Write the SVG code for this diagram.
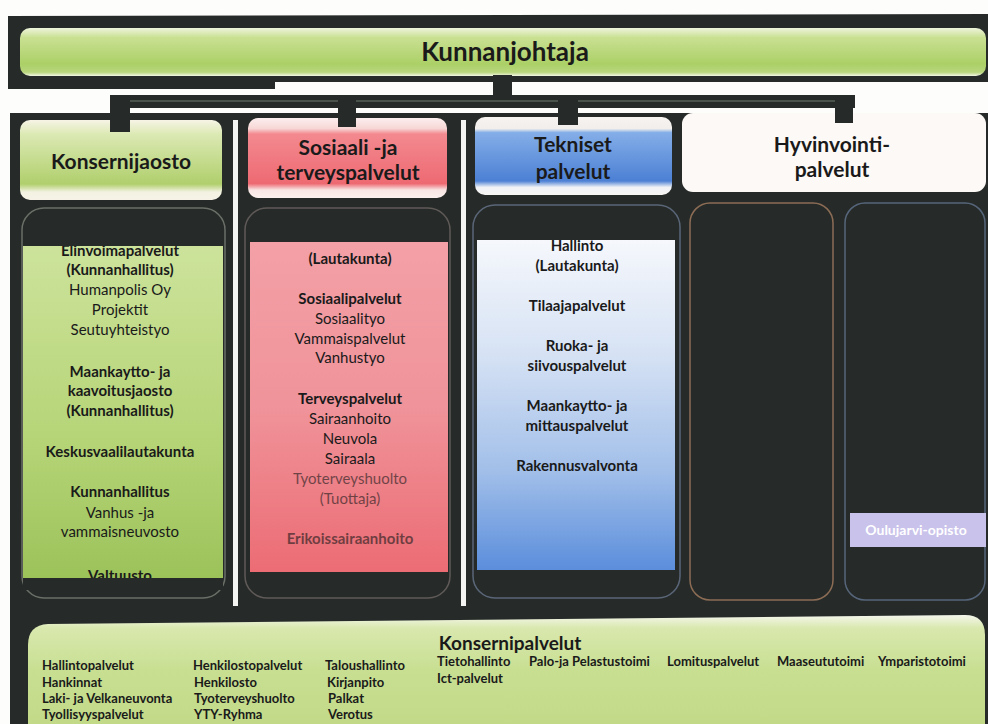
<svg xmlns="http://www.w3.org/2000/svg" width="988" height="724" viewBox="0 0 988 724">
<defs>
<linearGradient id="gTop" x1="0" y1="0" x2="0" y2="1">
<stop offset="0" stop-color="#eef5dc"/><stop offset="0.2" stop-color="#c9e092"/><stop offset="0.75" stop-color="#acd067"/><stop offset="0.92" stop-color="#b8d67c"/><stop offset="1" stop-color="#f2f6e4"/>
</linearGradient>
<linearGradient id="gGreenHead" x1="0" y1="0" x2="0" y2="1">
<stop offset="0" stop-color="#f7f4e6"/><stop offset="0.18" stop-color="#dbe9b3"/><stop offset="0.8" stop-color="#b0cf6c"/><stop offset="0.9" stop-color="#f3f2e2"/><stop offset="1" stop-color="#f6f3e6"/>
</linearGradient>
<linearGradient id="gPinkHead" x1="0" y1="0" x2="0" y2="1">
<stop offset="0" stop-color="#fbeeee"/><stop offset="0.13" stop-color="#f7d8d6"/><stop offset="0.2" stop-color="#f3898f"/><stop offset="0.82" stop-color="#ee6a73"/><stop offset="0.9" stop-color="#f8e6e4"/><stop offset="1" stop-color="#fbf1ee"/>
</linearGradient>
<linearGradient id="gBlueHead" x1="0" y1="0" x2="0" y2="1">
<stop offset="0" stop-color="#f7f3f0"/><stop offset="0.15" stop-color="#f2eeec"/><stop offset="0.2" stop-color="#84aee8"/><stop offset="0.82" stop-color="#4c80d4"/><stop offset="0.9" stop-color="#f0f2f6"/><stop offset="1" stop-color="#f8f6f4"/>
</linearGradient>
<linearGradient id="gGreenBody" x1="0" y1="0" x2="0" y2="1">
<stop offset="0" stop-color="#cde39c"/><stop offset="0.6" stop-color="#b5d476"/><stop offset="1" stop-color="#9cc25a"/>
</linearGradient>
<linearGradient id="gPinkBody" x1="0" y1="0" x2="0" y2="1">
<stop offset="0" stop-color="#f3a0a6"/><stop offset="0.5" stop-color="#f0939a"/><stop offset="1" stop-color="#ec6c74"/>
</linearGradient>
<linearGradient id="gBlueBody" x1="0" y1="0" x2="0" y2="1">
<stop offset="0" stop-color="#f6f8fc"/><stop offset="0.35" stop-color="#d6e2f4"/><stop offset="0.7" stop-color="#a2bfe9"/><stop offset="1" stop-color="#5b8edc"/>
</linearGradient>
<linearGradient id="gBottom" x1="0" y1="0" x2="0" y2="1">
<stop offset="0" stop-color="#f4f6ec"/><stop offset="0.12" stop-color="#d9e8ae"/><stop offset="0.5" stop-color="#c8df92"/><stop offset="1" stop-color="#c2da88"/>
</linearGradient>
<style>
.dark{fill:#262b29}
.t{font-family:Lato,"Open Sans","Liberation Sans",sans-serif;fill:#1a1a1a;text-anchor:middle}
.h{font-size:21px;font-weight:bold}
.b{font-size:15px;font-weight:bold}
.n{font-size:15px}
.s{font-size:13px;font-weight:bold;text-anchor:start}
.conn{fill:#262b29}
.sep{fill:#f4f4f2}
</style>
</defs>
<rect x="0" y="0" width="988" height="724" fill="#fdfdfb"/>

<!-- dark backgrounds -->
<path class="dark" d="M8 16 L988 14 L988 82 L275 82 L275 89 L8 89 Z"/>
<rect class="dark" x="10" y="113" width="978" height="611"/>

<!-- white separators -->
<rect class="sep" x="233" y="120" width="5" height="486"/>
<rect class="sep" x="461" y="120" width="5" height="486"/>

<g id="kunnanjohtaja">
<rect x="20" y="28" width="966" height="48" rx="10" fill="url(#gTop)"/>
<text class="t" x="505" y="61" font-size="26" font-weight="bold">Kunnanjohtaja</text>
</g>

<g id="konsernijaosto">
<rect x="20" y="120" width="202" height="80" rx="10" fill="url(#gGreenHead)"/>
<text class="t h" x="121" y="169">Konsernijaosto</text>
</g>

<g id="sosiaali">
<rect x="248" y="118" width="199" height="80" rx="10" fill="url(#gPinkHead)"/>
<text class="t h" x="348" y="155">Sosiaali -ja</text>
<text class="t h" x="348" y="180">terveyspalvelut</text>
</g>

<g id="tekniset">
<rect x="475" y="117" width="197" height="78" rx="10" fill="url(#gBlueHead)"/>
<text class="t h" x="573" y="152">Tekniset</text>
<text class="t h" x="573" y="179">palvelut</text>
</g>

<g id="hyvinvointi">
<rect x="682" y="113" width="304" height="79" rx="11" fill="#fdf9f6"/>
<text class="t h" x="832" y="152">Hyvinvointi-</text>
<text class="t h" x="832" y="177">palvelut</text>
</g>

<!-- connectors -->
<g id="connectors">
<rect class="conn" x="493" y="75" width="19" height="30"/>
<rect class="conn" x="110" y="95" width="745" height="13"/>
<line x1="125" y1="101" x2="850" y2="101" stroke="#6f7a70" stroke-width="1.2"/>
<rect class="conn" x="110" y="95" width="20" height="37"/>
<rect class="conn" x="338" y="95" width="18" height="32"/>
<rect class="conn" x="558" y="95" width="20" height="30"/>
<rect class="conn" x="835" y="95" width="18" height="28"/>
</g>

<g id="konserni-body">
<rect x="22" y="208" width="203" height="390" rx="22" fill="none" stroke="#6b6f68" stroke-width="1.5"/>
<rect x="23" y="241" width="200" height="337" fill="url(#gGreenBody)"/>
<text class="t b" x="120" y="256">Elinvoimapalvelut</text>
<rect class="dark" x="23" y="236" width="200" height="10"/>
<text class="t b" x="120" y="275">(Kunnanhallitus)</text>
<text class="t n" x="120" y="295">Humanpolis Oy</text>
<text class="t n" x="120" y="315">Projektit</text>
<text class="t n" x="120" y="335">Seutuyhteistyo</text>
<text class="t b" x="120" y="377">Maankaytto- ja</text>
<text class="t b" x="120" y="396">kaavoitusjaosto</text>
<text class="t b" x="120" y="416">(Kunnanhallitus)</text>
<text class="t b" x="120" y="457">Keskusvaalilautakunta</text>
<text class="t b" x="120" y="497">Kunnanhallitus</text>
<text class="t n" x="120" y="518">Vanhus -ja</text>
<text class="t n" x="120" y="537">vammaisneuvosto</text>
<text class="t b" x="120" y="581">Valtuusto</text>
<rect class="dark" x="23" y="578" width="200" height="12"/>
</g>

<g id="sosiaali-body">
<rect x="245" y="208" width="205" height="390" rx="22" fill="none" stroke="#5f5a58" stroke-width="1.5"/>
<rect x="250" y="242" width="198" height="330" fill="url(#gPinkBody)"/>
<text class="t b" x="350" y="264">(Lautakunta)</text>
<text class="t b" x="350" y="304">Sosiaalipalvelut</text>
<text class="t n" x="350" y="324">Sosiaalityo</text>
<text class="t n" x="350" y="344">Vammaispalvelut</text>
<text class="t n" x="350" y="363">Vanhustyo</text>
<text class="t b" x="350" y="404">Terveyspalvelut</text>
<text class="t n" x="350" y="424">Sairaanhoito</text>
<text class="t n" x="350" y="444">Neuvola</text>
<text class="t n" x="350" y="464">Sairaala</text>
<text class="t n" x="350" y="484" opacity="0.6">Tyoterveyshuolto</text>
<text class="t n" x="350" y="504" opacity="0.6">(Tuottaja)</text>
<text class="t b" x="350" y="544" opacity="0.6">Erikoissairaanhoito</text>
</g>

<g id="tekniset-body">
<rect x="473" y="205" width="207" height="393" rx="22" fill="none" stroke="#5a6678" stroke-width="1.5"/>
<rect x="477" y="238" width="198" height="332" fill="url(#gBlueBody)"/>
<text class="t b" x="577" y="251">Hallinto</text>
<rect class="dark" x="477" y="233" width="198" height="7"/>
<text class="t b" x="577" y="271">(Lautakunta)</text>
<text class="t b" x="577" y="311">Tilaajapalvelut</text>
<text class="t b" x="577" y="351">Ruoka- ja</text>
<text class="t b" x="577" y="371">siivouspalvelut</text>
<text class="t b" x="577" y="411">Maankaytto- ja</text>
<text class="t b" x="577" y="431">mittauspalvelut</text>
<text class="t b" x="577" y="471">Rakennusvalvonta</text>
</g>

<g id="hyvinvointi-left">
<rect x="690" y="203" width="143" height="397" rx="20" fill="none" stroke="#8c6c55" stroke-width="1.5"/>
</g>

<g id="hyvinvointi-right">
<rect x="845" y="203" width="140" height="397" rx="20" fill="none" stroke="#56657a" stroke-width="1.5"/>
<rect x="850" y="513" width="136" height="34" fill="#c9c2ea"/>
<text class="t" x="916" y="535" font-size="14" font-weight="bold" style="fill:#ffffff">Oulujarvi-opisto</text>
</g>

<g id="konsernipalvelut">
<path d="M28 645 Q28 625 48 624 L965 615 Q985 615 985 635 L985 724 L28 724 Z" fill="url(#gBottom)"/>
<text class="t" x="510" y="650" font-size="19" font-weight="bold">Konsernipalvelut</text>
<text class="t s" x="42" y="670">Hallintopalvelut</text>
<text class="t s" x="42" y="687">Hankinnat</text>
<text class="t s" x="42" y="703">Laki- ja Velkaneuvonta</text>
<text class="t s" x="42" y="719">Tyollisyyspalvelut</text>
<text class="t s" x="193" y="670">Henkilostopalvelut</text>
<text class="t s" x="194" y="687">Henkilosto</text>
<text class="t s" x="194" y="703">Tyoterveyshuolto</text>
<text class="t s" x="194" y="719">YTY-Ryhma</text>
<text class="t s" x="325" y="670">Taloushallinto</text>
<text class="t s" x="327" y="687">Kirjanpito</text>
<text class="t s" x="328" y="703">Palkat</text>
<text class="t s" x="328" y="719">Verotus</text>
<text class="t s" x="437" y="666">Tietohallinto</text>
<text class="t s" x="437" y="683">Ict-palvelut</text>
<text class="t s" x="529" y="666">Palo-ja Pelastustoimi</text>
<text class="t s" x="667" y="666">Lomituspalvelut</text>
<text class="t s" x="777" y="666">Maaseututoimi</text>
<text class="t s" x="878" y="666">Ymparistotoimi</text>
</g>
</svg>
